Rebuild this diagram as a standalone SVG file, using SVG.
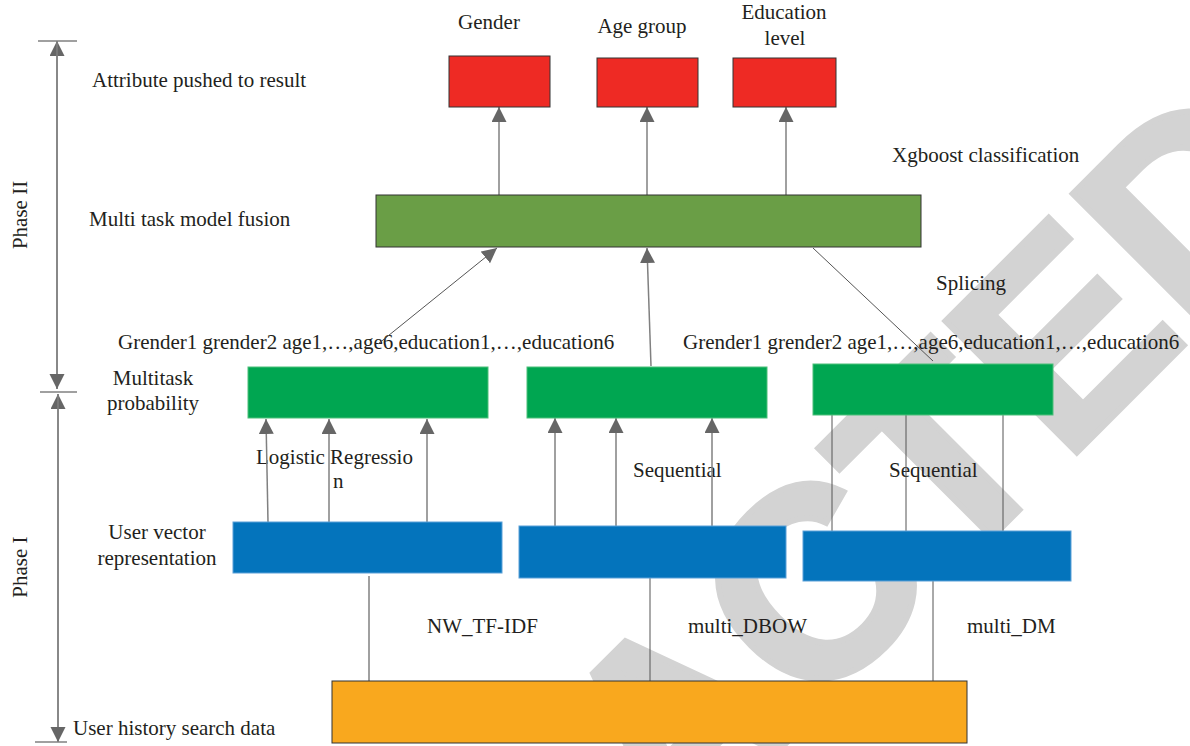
<svg xmlns="http://www.w3.org/2000/svg" width="1190" height="746" viewBox="0 0 1190 746">
<defs>
<marker id="ah" markerUnits="userSpaceOnUse" markerWidth="16" markerHeight="16" refX="15" refY="7.5" orient="auto">
<path d="M0,0 L15,7.5 L0,15 Z" fill="#666"/>
</marker>
<style>
text{font-family:"Liberation Serif","Times New Roman",serif;font-size:21px;fill:#231f20}
.mid{text-anchor:middle}
.wm{font-family:"Liberation Sans",Arial,sans-serif;font-weight:bold;font-size:270px;fill:#d3d3d3;stroke:#d3d3d3;stroke-width:6;text-anchor:middle}
.con{stroke:#808080;stroke-width:1.5;fill:none}
.thin{stroke:#555;stroke-width:1;fill:none}
.arr{marker-end:url(#ah)}
.red{fill:#ee2a24;stroke:#333;stroke-width:1}
.fus{fill:#6a9e46;stroke:#333;stroke-width:1}
.grn{fill:#00a651;stroke:#4cc07a;stroke-width:1}
.blu{fill:#0474bc;stroke:#5aa0d8;stroke-width:1}
.org{fill:#f9a81e;stroke:#333;stroke-width:1}
</style>
</defs>
<rect width="1190" height="746" fill="#fff"/>
<text class="wm" transform="translate(672,720) rotate(-45)" y="97">RETRACTED</text>

<g id="phase-axis">
<line x1="38" y1="41" x2="77" y2="41" class="con"/>
<line x1="57" y1="389" x2="57" y2="41" class="con arr"/>
<line x1="57" y1="41" x2="57" y2="389" class="con arr"/>
<line x1="40" y1="392" x2="77" y2="392" class="con"/>
<line x1="58" y1="742" x2="58" y2="394" class="con arr"/>
<line x1="58" y1="394" x2="58" y2="742" class="con arr"/>
<line x1="35" y1="742" x2="67" y2="742" class="con"/>
<text class="mid" transform="translate(27,215) rotate(-90)">Phase II</text>
<text class="mid" transform="translate(27,567) rotate(-90)">Phase I</text>
</g>

<g id="labels">
<text x="92" y="87">Attribute pushed to result</text>
<text x="89" y="226">Multi task model fusion</text>
<text class="mid" x="153" y="385">Multitask</text>
<text class="mid" x="153" y="410">probability</text>
<text class="mid" x="157" y="539">User vector</text>
<text class="mid" x="157" y="565">representation</text>
<text x="73" y="735">User history search data</text>
<text x="892" y="162">Xgboost classification</text>
<text x="936" y="290">Splicing</text>
<text x="118" y="349">Grender1 grender2 age1,…,age6,education1,…,education6</text>
<text x="683" y="349">Grender1 grender2 age1,…,age6,education1,…,education6</text>
<text x="256" y="464">Logistic Regressio</text>
<text x="333" y="488">n</text>
<text x="633" y="477">Sequential</text>
<text x="889" y="477">Sequential</text>
<text x="427" y="633">NW_TF-IDF</text>
<text x="688" y="633">multi_DBOW</text>
<text x="967" y="633">multi_DM</text>
</g>

<g id="connectors">
<line x1="499" y1="195" x2="499" y2="107" class="con arr"/>
<line x1="647" y1="195" x2="647" y2="107" class="con arr"/>
<line x1="786" y1="195" x2="786" y2="107" class="con arr"/>
<line x1="378" y1="344" x2="497" y2="248" class="thin arr"/>
<line x1="651" y1="366" x2="647" y2="248" class="con arr"/>
<line x1="813" y1="248" x2="933" y2="361" class="thin"/>
<line x1="268" y1="522" x2="266" y2="419" class="con arr"/>
<line x1="329" y1="522" x2="329" y2="419" class="con arr"/>
<line x1="427" y1="522" x2="427" y2="419" class="con arr"/>
<line x1="555" y1="526" x2="555" y2="418" class="con arr"/>
<line x1="616" y1="526" x2="616" y2="418" class="con arr"/>
<line x1="712" y1="526" x2="712" y2="418" class="con arr"/>
<line x1="832" y1="415" x2="832" y2="531" class="thin"/>
<line x1="906" y1="415" x2="906" y2="531" class="thin"/>
<line x1="1003" y1="415" x2="1003" y2="531" class="thin"/>
<line x1="369" y1="576" x2="369" y2="681" class="con"/>
<line x1="650" y1="578" x2="650" y2="681" class="thin"/>
<line x1="933" y1="581" x2="933" y2="681" class="thin"/>
</g>

<g id="node-gender">
<rect class="red" x="449" y="56" width="101" height="51"/>
<text class="mid" x="489" y="29">Gender</text>
</g>
<g id="node-age">
<rect class="red" x="597" y="58" width="101" height="49"/>
<text class="mid" x="642" y="33">Age group</text>
</g>
<g id="node-education">
<rect class="red" x="733" y="58" width="103" height="49"/>
<text class="mid" x="784" y="19">Education</text>
<text class="mid" x="785" y="45">level</text>
</g>
<g id="node-fusion"><rect class="fus" x="376" y="195" width="545" height="52"/></g>
<g id="node-prob1"><rect class="grn" x="248" y="367" width="240" height="51"/></g>
<g id="node-prob2"><rect class="grn" x="527" y="367" width="240" height="51"/></g>
<g id="node-prob3"><rect class="grn" x="813" y="364" width="240" height="51"/></g>
<g id="node-vec1"><rect class="blu" x="233" y="522" width="269" height="51"/></g>
<g id="node-vec2"><rect class="blu" x="519" y="526" width="267" height="52"/></g>
<g id="node-vec3"><rect class="blu" x="803" y="531" width="268" height="50"/></g>
<g id="node-history"><rect class="org" x="332" y="681" width="635" height="62"/></g>
</svg>
